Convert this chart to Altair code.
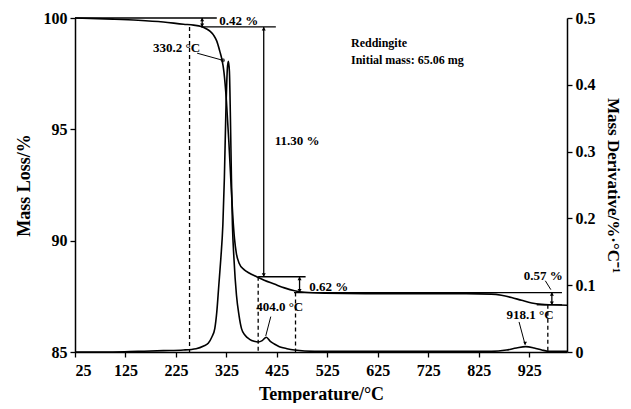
import altair as alt
import pandas as pd

# ---- TG curve (mass %) ----
tg_T = [25, 100, 150, 200, 240, 260, 275, 285, 293, 300, 306, 312, 316, 320, 325, 330, 335, 338, 341,
        345, 350, 360, 370, 385, 400, 420, 440, 460, 480, 520, 600, 700, 800, 850, 870, 890, 910, 930,
        950, 970, 1000]
tg_m = [100.0, 99.95, 99.9, 99.82, 99.72, 99.68, 99.62, 99.52, 99.4, 99.22, 98.96, 98.5, 98.15, 97.6,
        96.3, 94.4, 92.2, 91.0, 90.1, 89.4, 89.0, 88.7, 88.55, 88.38, 88.22, 88.05, 87.88, 87.75, 87.68,
        87.64, 87.62, 87.62, 87.62, 87.6, 87.55, 87.45, 87.32, 87.2, 87.14, 87.12, 87.1]

# ---- DTG curve (%/°C) ----
dtg_T = [25, 100, 150, 200, 240, 265, 280, 289, 296, 302, 306, 310, 314, 318, 321, 324, 327, 329, 331,
         333, 335, 337, 340, 345, 350, 355, 362, 371, 380, 388, 396, 404, 412, 420, 430, 445, 460, 500,
         700, 850, 880, 900, 918, 935, 950, 965, 1000]
dtg_v = [0.0, 0.0, 0.001, 0.002, 0.003, 0.005, 0.009, 0.013, 0.022, 0.035, 0.06, 0.10, 0.14, 0.19, 0.26,
         0.36, 0.425, 0.435, 0.42, 0.35, 0.26, 0.19, 0.14, 0.085, 0.055, 0.035, 0.025, 0.019, 0.016,
         0.015, 0.017, 0.022, 0.016, 0.012, 0.008, 0.005, 0.003, 0.001, 0.001, 0.001, 0.003, 0.006,
         0.008, 0.006, 0.003, 0.001, 0.001]

# ---- axis ticks ----
x_ticks = [25, 125, 225, 325, 425, 525, 625, 725, 825, 925]
left_ticks = [85, 90, 95, 100]
right_ticks = [0, 0.1, 0.2, 0.3, 0.4, 0.5]

# ---- solid segments in mass units (T, m, T2, m2) ----
seg_T = [25, 275, 388, 459, 940, 277, 399, 470, 970]
seg_m = [100.0, 99.6, 88.38, 87.67, 87.12, 100.0, 99.6, 88.38, 87.67]
seg_T2 = [306, 423, 482, 990, 990, 277, 399, 470, 970]
seg_m2 = [100.0, 99.6, 88.38, 87.67, 87.12, 99.6, 88.38, 87.67, 87.12]

# ---- dashed verticals in mass units ----
dash_T = [252, 388, 462, 962]
dash_top = [99.6, 88.38, 87.67, 87.12]
dash_bot = [85.0, 85.0, 85.0, 85.0]

# ---- arrow heads (mass units) ----
head_T = [277, 277, 399, 399, 470, 470, 970, 970]
head_m = [99.93, 99.67, 99.52, 88.46, 88.3, 87.75, 87.6, 87.19]
head_shape = ["triangle-up", "triangle-down", "triangle-up", "triangle-down",
              "triangle-up", "triangle-down", "triangle-up", "triangle-down"]

# ---- text labels (mass units) ----
lab_text = ["0.42 %", "330.2 °C", "11.30 %", "0.62 %", "0.57 %"]
lab_T = [311, 273, 421, 489, 953]
lab_m = [99.88, 98.64, 94.49, 87.94, 88.4]
lab_align = ["left", "right", "left", "left", "center"]

info_text = ["Reddingite", "Initial mass: 65.06 mg"]
info_T = [572, 572]
info_m = [98.87, 98.1]

# ---- leader segments (mass units) ----
lead_T = [267, 957]
lead_m = [98.42, 88.2]
lead_T2 = [318, 968]
lead_m2 = [98.1, 87.8]

# ---- DTG annotations ----
dlab_text = ["404.0 °C", "918.1 °C"]
dlab_T = [384, 880]
dlab_v = [0.068, 0.056]
dlead_T = [413, 905]
dlead_v = [0.053, 0.045]
dlead_T2 = [403, 917]
dlead_v2 = [0.024, 0.011]

FONT = "Liberation Serif"

xscale = alt.Scale(domain=[25, 1000], nice=False, zero=False)
xaxis = alt.Axis(values=x_ticks, title="Temperature/°C", titlePadding=7, labelPadding=5)
myscale = alt.Scale(domain=[85, 100], nice=False, zero=False)
myaxis = alt.Axis(values=left_ticks, title="Mass Loss/%", titlePadding=10, orient="left")
dyscale = alt.Scale(domain=[0, 0.5], nice=False)
dyaxis = alt.Axis(values=right_ticks, title="Mass Derivative/%·°C⁻¹", orient="right", titleFontSize=17,
                  labelExpr="datum.value == 0 ? '0' : format(datum.value, '.1f')", titlePadding=8)

tg_df = pd.DataFrame({"T": tg_T, "m": tg_m})
dtg_df = pd.DataFrame({"T": dtg_T, "d": dtg_v})
seg_df = pd.DataFrame({"T": seg_T, "m": seg_m, "T2": seg_T2, "m2": seg_m2})
lead_df = pd.DataFrame({"T": lead_T, "m": lead_m, "T2": lead_T2, "m2": lead_m2})
dash_df = pd.DataFrame({"T": dash_T, "m": dash_top, "m2": dash_bot})
head_df = pd.DataFrame({"T": head_T, "m": head_m, "s": head_shape})
lab_df = pd.DataFrame({"T": lab_T, "m": lab_m, "t": lab_text, "a": lab_align})
info_df = pd.DataFrame({"T": info_T, "m": info_m, "t": info_text})
dlab_df = pd.DataFrame({"T": dlab_T, "d": dlab_v, "t": dlab_text})
dlead_df = pd.DataFrame({"T": dlead_T, "d": dlead_v, "T2": dlead_T2, "d2": dlead_v2})

X = alt.X("T:Q", scale=xscale, axis=xaxis)
YM = alt.Y("m:Q", scale=myscale, axis=myaxis)
YD = alt.Y("d:Q", scale=dyscale, axis=dyaxis)

tg_line = alt.Chart(tg_df).mark_line(color="black", strokeWidth=1.6, interpolate="monotone").encode(x=X, y=YM)
segs = alt.Chart(seg_df).mark_rule(color="black", strokeWidth=1.3).encode(
    x=X, y=YM, x2="T2:Q", y2="m2:Q")
leads = alt.Chart(lead_df).mark_rule(color="black", strokeWidth=1).encode(
    x=X, y=YM, x2="T2:Q", y2="m2:Q")
dot = alt.Chart(pd.DataFrame({"T": [318], "m": [98.1]})).mark_point(
    filled=True, color="black", size=18).encode(x=X, y=YM)
dashes = alt.Chart(dash_df).mark_rule(color="black", strokeWidth=1.3, strokeDash=[4, 3]).encode(
    x=X, y=YM, y2="m2:Q")
heads = alt.Chart(head_df).mark_point(filled=True, color="black", size=16, opacity=1).encode(
    x=X, y=YM, shape=alt.Shape("s:N", scale=None, legend=None))
labs_left = alt.Chart(lab_df[lab_df.a == "left"]).mark_text(
    font=FONT, fontWeight="bold", fontSize=13, align="left", baseline="middle", color="black").encode(
    x=X, y=YM, text="t:N")
labs_right = alt.Chart(lab_df[lab_df.a == "right"]).mark_text(
    font=FONT, fontWeight="bold", fontSize=13, align="right", baseline="middle", color="black").encode(
    x=X, y=YM, text="t:N")
labs_center = alt.Chart(lab_df[lab_df.a == "center"]).mark_text(
    font=FONT, fontWeight="bold", fontSize=13, align="center", baseline="middle", color="black").encode(
    x=X, y=YM, text="t:N")
info = alt.Chart(info_df).mark_text(
    font=FONT, fontWeight="bold", fontSize=12, align="left", baseline="middle", color="black").encode(
    x=X, y=YM, text="t:N")

left = alt.layer(tg_line, segs, leads, dashes, heads, dot, labs_left, labs_right, labs_center, info)

dtg_line = alt.Chart(dtg_df).mark_line(color="black", strokeWidth=1.6, interpolate="monotone").encode(x=X, y=YD)
dlabs = alt.Chart(dlab_df).mark_text(
    font=FONT, fontWeight="bold", fontSize=13, align="left", baseline="middle", color="black").encode(
    x=X, y=YD, text="t:N")
dleads = alt.Chart(dlead_df).mark_rule(color="black", strokeWidth=1).encode(
    x=X, y=YD, x2="T2:Q", y2="d2:Q")
dheads = alt.Chart(pd.DataFrame({"T": [917], "d": [0.013]})).mark_point(
    filled=True, color="black", size=14, shape="triangle-down", opacity=1).encode(x=X, y=YD)

right = alt.layer(dtg_line, dlabs, dleads, dheads)

chart = alt.layer(left, right).resolve_scale(y="independent").properties(
    width=615, height=395, autosize=alt.AutoSizeParams(type="fit", contains="padding"),
    padding={"left": 7, "top": 2, "right": 2, "bottom": 0},
    background="white"
).configure_view(stroke=None).configure_axis(
    labelFont=FONT, labelFontWeight="bold", labelFontSize=16, labelColor="black",
    titleFont=FONT, titleFontWeight="bold", titleFontSize=18, titleColor="black",
    domainColor="black", domainWidth=1.5, tickColor="black", tickWidth=1.3, tickSize=5,
    grid=False, labelPadding=3
)

chart.save("out.html", embed_options={"renderer": "svg", "actions": False})
